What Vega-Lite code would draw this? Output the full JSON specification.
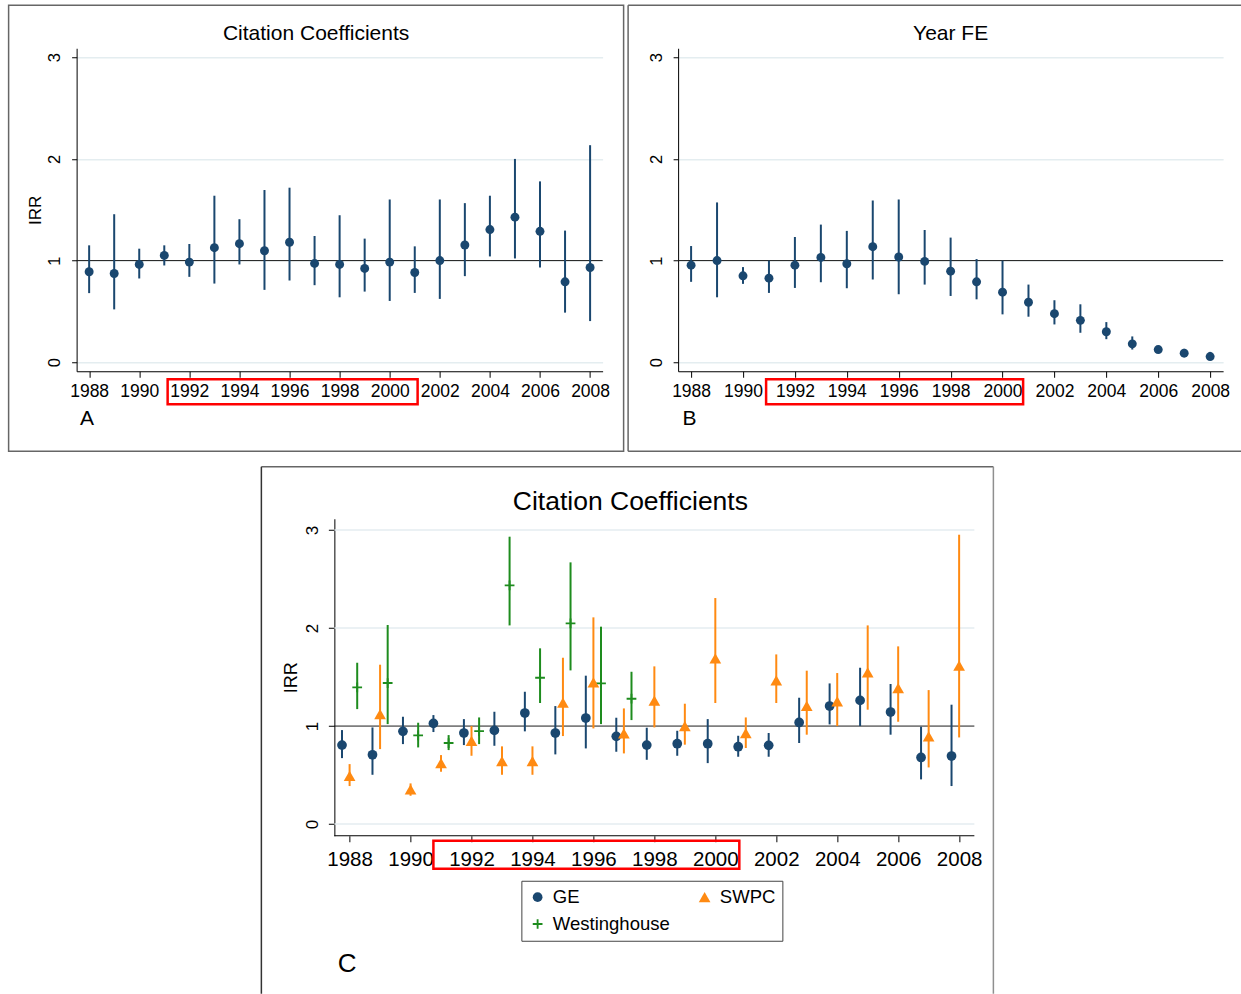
{
  "$schema": "https://vega.github.io/schema/vega-lite/v6.json",
  "background": "white",
  "padding": {"left": 7.25, "top": 4.25, "right": 0, "bottom": 0},
  "datasets": {
    "a": [
      {"year": 1988, "irr": 0.89, "lo": 0.68, "hi": 1.15},
      {"year": 1989, "irr": 0.873, "lo": 0.52, "hi": 1.456},
      {"year": 1990, "irr": 0.962, "lo": 0.824, "hi": 1.117},
      {"year": 1991, "irr": 1.051, "lo": 0.952, "hi": 1.15},
      {"year": 1992, "irr": 0.985, "lo": 0.84, "hi": 1.163},
      {"year": 1993, "irr": 1.127, "lo": 0.774, "hi": 1.638},
      {"year": 1994, "irr": 1.166, "lo": 0.962, "hi": 1.407},
      {"year": 1995, "irr": 1.097, "lo": 0.712, "hi": 1.694},
      {"year": 1996, "irr": 1.18, "lo": 0.804, "hi": 1.717},
      {"year": 1997, "irr": 0.972, "lo": 0.758, "hi": 1.242},
      {"year": 1998, "irr": 0.962, "lo": 0.639, "hi": 1.446},
      {"year": 1999, "irr": 0.923, "lo": 0.695, "hi": 1.216},
      {"year": 2000, "irr": 0.985, "lo": 0.603, "hi": 1.601},
      {"year": 2001, "irr": 0.883, "lo": 0.682, "hi": 1.14},
      {"year": 2002, "irr": 1.0, "lo": 0.623, "hi": 1.601},
      {"year": 2003, "irr": 1.153, "lo": 0.847, "hi": 1.565},
      {"year": 2004, "irr": 1.305, "lo": 1.041, "hi": 1.638},
      {"year": 2005, "irr": 1.427, "lo": 1.021, "hi": 2.0},
      {"year": 2006, "irr": 1.288, "lo": 0.932, "hi": 1.779},
      {"year": 2007, "irr": 0.791, "lo": 0.488, "hi": 1.295},
      {"year": 2008, "irr": 0.932, "lo": 0.405, "hi": 2.135}
    ],
    "b": [
      {"year": 1988, "irr": 0.955, "lo": 0.791, "hi": 1.143},
      {"year": 1989, "irr": 1.0, "lo": 0.639, "hi": 1.572},
      {"year": 1990, "irr": 0.85, "lo": 0.771, "hi": 0.936},
      {"year": 1991, "irr": 0.827, "lo": 0.682, "hi": 1.0},
      {"year": 1992, "irr": 0.955, "lo": 0.731, "hi": 1.232},
      {"year": 1993, "irr": 1.031, "lo": 0.787, "hi": 1.354},
      {"year": 1994, "irr": 0.969, "lo": 0.728, "hi": 1.292},
      {"year": 1995, "irr": 1.137, "lo": 0.814, "hi": 1.591},
      {"year": 1996, "irr": 1.035, "lo": 0.669, "hi": 1.601},
      {"year": 1997, "irr": 0.992, "lo": 0.764, "hi": 1.301},
      {"year": 1998, "irr": 0.896, "lo": 0.652, "hi": 1.226},
      {"year": 1999, "irr": 0.791, "lo": 0.619, "hi": 1.015},
      {"year": 2000, "irr": 0.689, "lo": 0.471, "hi": 1.0},
      {"year": 2001, "irr": 0.59, "lo": 0.448, "hi": 0.764},
      {"year": 2002, "irr": 0.478, "lo": 0.372, "hi": 0.61},
      {"year": 2003, "irr": 0.412, "lo": 0.29, "hi": 0.57},
      {"year": 2004, "irr": 0.3, "lo": 0.227, "hi": 0.395},
      {"year": 2005, "irr": 0.181, "lo": 0.125, "hi": 0.254},
      {"year": 2006, "irr": 0.125, "lo": 0.092, "hi": 0.155},
      {"year": 2007, "irr": 0.089, "lo": 0.056, "hi": 0.132},
      {"year": 2008, "irr": 0.056, "lo": 0.023, "hi": 0.102}
    ],
    "c": [
      {"year": 1988, "firm": "GE", "irr": 0.806, "lo": 0.673, "hi": 0.959},
      {"year": 1989, "firm": "GE", "irr": 0.707, "lo": 0.503, "hi": 0.986},
      {"year": 1990, "firm": "GE", "irr": 0.946, "lo": 0.816, "hi": 1.095},
      {"year": 1991, "firm": "GE", "irr": 1.027, "lo": 0.939, "hi": 1.112},
      {"year": 1992, "firm": "GE", "irr": 0.929, "lo": 0.806, "hi": 1.071},
      {"year": 1993, "firm": "GE", "irr": 0.956, "lo": 0.799, "hi": 1.146},
      {"year": 1994, "firm": "GE", "irr": 1.133, "lo": 0.946, "hi": 1.35},
      {"year": 1995, "firm": "GE", "irr": 0.929, "lo": 0.711, "hi": 1.204},
      {"year": 1996, "firm": "GE", "irr": 1.082, "lo": 0.772, "hi": 1.514},
      {"year": 1997, "firm": "GE", "irr": 0.895, "lo": 0.738, "hi": 1.085},
      {"year": 1998, "firm": "GE", "irr": 0.806, "lo": 0.656, "hi": 0.983},
      {"year": 1999, "firm": "GE", "irr": 0.82, "lo": 0.697, "hi": 0.952},
      {"year": 2000, "firm": "GE", "irr": 0.82, "lo": 0.622, "hi": 1.071},
      {"year": 2001, "firm": "GE", "irr": 0.789, "lo": 0.687, "hi": 0.901},
      {"year": 2002, "firm": "GE", "irr": 0.803, "lo": 0.687, "hi": 0.929},
      {"year": 2003, "firm": "GE", "irr": 1.037, "lo": 0.827, "hi": 1.289},
      {"year": 2004, "firm": "GE", "irr": 1.204, "lo": 1.017, "hi": 1.435},
      {"year": 2005, "firm": "GE", "irr": 1.262, "lo": 1.0, "hi": 1.595},
      {"year": 2006, "firm": "GE", "irr": 1.143, "lo": 0.912, "hi": 1.429},
      {"year": 2007, "firm": "GE", "irr": 0.68, "lo": 0.456, "hi": 0.993},
      {"year": 2008, "firm": "GE", "irr": 0.694, "lo": 0.388, "hi": 1.218},
      {"year": 1988, "firm": "Westinghouse", "irr": 1.395, "lo": 1.173, "hi": 1.646},
      {"year": 1989, "firm": "Westinghouse", "irr": 1.439, "lo": 1.02, "hi": 2.031},
      {"year": 1990, "firm": "Westinghouse", "irr": 0.905, "lo": 0.782, "hi": 1.034},
      {"year": 1991, "firm": "Westinghouse", "irr": 0.827, "lo": 0.755, "hi": 0.908},
      {"year": 1992, "firm": "Westinghouse", "irr": 0.949, "lo": 0.816, "hi": 1.088},
      {"year": 1993, "firm": "Westinghouse", "irr": 2.435, "lo": 2.027, "hi": 2.932},
      {"year": 1994, "firm": "Westinghouse", "irr": 1.493, "lo": 1.235, "hi": 1.793},
      {"year": 1995, "firm": "Westinghouse", "irr": 2.048, "lo": 1.568, "hi": 2.67},
      {"year": 1996, "firm": "Westinghouse", "irr": 1.435, "lo": 1.02, "hi": 2.014},
      {"year": 1997, "firm": "Westinghouse", "irr": 1.279, "lo": 1.061, "hi": 1.554},
      {"year": 1988, "firm": "SWPC", "irr": 0.493, "lo": 0.388, "hi": 0.612},
      {"year": 1989, "firm": "SWPC", "irr": 1.122, "lo": 0.765, "hi": 1.626},
      {"year": 1990, "firm": "SWPC", "irr": 0.354, "lo": 0.289, "hi": 0.415},
      {"year": 1991, "firm": "SWPC", "irr": 0.622, "lo": 0.534, "hi": 0.704},
      {"year": 1992, "firm": "SWPC", "irr": 0.85, "lo": 0.697, "hi": 1.0},
      {"year": 1993, "firm": "SWPC", "irr": 0.643, "lo": 0.503, "hi": 0.793},
      {"year": 1994, "firm": "SWPC", "irr": 0.643, "lo": 0.503, "hi": 0.793},
      {"year": 1995, "firm": "SWPC", "irr": 1.238, "lo": 0.898, "hi": 1.697},
      {"year": 1996, "firm": "SWPC", "irr": 1.446, "lo": 0.976, "hi": 2.109},
      {"year": 1997, "firm": "SWPC", "irr": 0.925, "lo": 0.721, "hi": 1.18},
      {"year": 1998, "firm": "SWPC", "irr": 1.259, "lo": 0.986, "hi": 1.609},
      {"year": 1999, "firm": "SWPC", "irr": 1.0, "lo": 0.81, "hi": 1.228},
      {"year": 2000, "firm": "SWPC", "irr": 1.69, "lo": 1.235, "hi": 2.306},
      {"year": 2001, "firm": "SWPC", "irr": 0.929, "lo": 0.776, "hi": 1.088},
      {"year": 2002, "firm": "SWPC", "irr": 1.466, "lo": 1.235, "hi": 1.731},
      {"year": 2003, "firm": "SWPC", "irr": 1.207, "lo": 0.912, "hi": 1.565},
      {"year": 2004, "firm": "SWPC", "irr": 1.252, "lo": 1.0, "hi": 1.541},
      {"year": 2005, "firm": "SWPC", "irr": 1.548, "lo": 1.167, "hi": 2.027},
      {"year": 2006, "firm": "SWPC", "irr": 1.388, "lo": 1.044, "hi": 1.813},
      {"year": 2007, "firm": "SWPC", "irr": 0.895, "lo": 0.578, "hi": 1.367},
      {"year": 2008, "firm": "SWPC", "irr": 1.616, "lo": 0.884, "hi": 2.952}
    ]
  },
  "vconcat": [
    {
      "hconcat": [
        {
          "width": 526,
          "height": 323,
          "title": {"text": "Citation Coefficients", "frame": "bounds", "anchor": "middle", "offset": -39, "fontSize": 21},
          "layer": [
            {
              "data": {"values": [{}]},
              "mark": {"type": "rect", "filled": false, "color": "#666666", "strokeWidth": 1.5},
              "encoding": {
                "x": {"datum": 1984.785}, "x2": {"datum": 2009.338},
                "y": {"datum": 3.5114}, "y2": {"datum": -0.8754}
              }
            },
            {
              "data": {"values": [{}]},
              "mark": {"type": "rule", "color": "#1C1C1C", "strokeWidth": 1},
              "encoding": {"y": {"datum": 1}}
            },
            {
              "data": {"name": "a"},
              "mark": {"type": "rule", "color": "#1A476F", "strokeWidth": 2},
              "encoding": {
                "x": {
                  "field": "year", "type": "quantitative",
                  "scale": {"domain": [1987.5, 2008.5], "nice": false, "zero": false},
                  "axis": {
                    "values": [1988, 1989, 1990, 1991, 1992, 1993, 1994, 1995, 1996, 1997, 1998, 1999, 2000, 2001, 2002, 2003, 2004, 2005, 2006, 2007, 2008],
                    "labelExpr": "datum.value % 2 == 0 ? format(datum.value, 'd') : ''",
                    "labelFontSize": 17.5, "labelPadding": 5, "tickSize": 6,
                    "labelFlush": false, "labelOverlap": false, "grid": false,
                    "title": "A", "titleFontSize": 21, "titleX": 3, "titleY": 53,
                    "titleAlign": "left", "titleBaseline": "alphabetic"
                  }
                },
                "y": {
                  "field": "lo", "type": "quantitative",
                  "scale": {"domain": [-0.0885, 3.0885], "nice": false, "zero": false},
                  "axis": {
                    "values": [0, 1, 2, 3], "format": "d", "grid": true,
                    "labelAngle": 270, "labelAlign": "center", "labelBaseline": "alphabetic",
                    "labelPadding": 12, "labelFontSize": 16.5, "tickSize": 5,
                    "title": "IRR", "titleFontSize": 17, "titleAngle": 270,
                    "titleAlign": "center", "titleBaseline": "alphabetic",
                    "titleX": -36.5, "titleY": 161.5
                  }
                },
                "y2": {"field": "hi"}
              }
            },
            {
              "data": {"name": "a"},
              "mark": {"type": "circle", "color": "#1A476F", "size": 80, "opacity": 1},
              "encoding": {
                "x": {"field": "year", "type": "quantitative", "scale": {"domain": [1987.5, 2008.5], "nice": false, "zero": false}},
                "y": {"field": "irr", "type": "quantitative", "scale": {"domain": [-0.0885, 3.0885], "nice": false, "zero": false}}
              }
            },
            {
              "data": {"values": [{}]},
              "mark": {"type": "rect", "filled": false, "color": "#FF0000", "strokeWidth": 2.5, "xOffset": -21.7, "x2Offset": 27.9},
              "encoding": {
                "x": {"datum": 1992}, "x2": {"datum": 2000},
                "y": {"datum": -0.167}, "y2": {"datum": -0.413}
              }
            }
          ]
        },
        {
          "width": 545,
          "height": 323,
          "title": {"text": "Year FE", "frame": "group", "anchor": "middle", "offset": -39, "fontSize": 21},
          "layer": [
            {
              "data": {"values": [{}]},
              "mark": {"type": "rule", "color": "#666666", "strokeWidth": 1.5},
              "encoding": {"x": {"datum": 1985.573}, "x2": {"datum": 2009.194}, "y": {"datum": 3.5114}}
            },
            {
              "data": {"values": [{}]},
              "mark": {"type": "rule", "color": "#666666", "strokeWidth": 1.5},
              "encoding": {"x": {"datum": 1985.573}, "x2": {"datum": 2009.194}, "y": {"datum": -0.8754}}
            },
            {
              "data": {"values": [{}]},
              "mark": {"type": "rule", "color": "#666666", "strokeWidth": 1.5},
              "encoding": {"x": {"datum": 1985.573}, "y": {"datum": 3.5114}, "y2": {"datum": -0.8754}}
            },
            {
              "data": {"values": [{}]},
              "mark": {"type": "rule", "color": "#1C1C1C", "strokeWidth": 1},
              "encoding": {"y": {"datum": 1}}
            },
            {
              "data": {"name": "b"},
              "mark": {"type": "rule", "color": "#1A476F", "strokeWidth": 2},
              "encoding": {
                "x": {
                  "field": "year", "type": "quantitative",
                  "scale": {"domain": [1987.5, 2008.5], "nice": false, "zero": false},
                  "axis": {
                    "values": [1988, 1989, 1990, 1991, 1992, 1993, 1994, 1995, 1996, 1997, 1998, 1999, 2000, 2001, 2002, 2003, 2004, 2005, 2006, 2007, 2008],
                    "labelExpr": "datum.value % 2 == 0 ? format(datum.value, 'd') : ''",
                    "labelFontSize": 17.5, "labelPadding": 5, "tickSize": 6,
                    "labelFlush": false, "labelOverlap": false, "grid": false,
                    "title": "B", "titleFontSize": 21, "titleX": 4, "titleY": 53,
                    "titleAlign": "left", "titleBaseline": "alphabetic"
                  }
                },
                "y": {
                  "field": "lo", "type": "quantitative",
                  "scale": {"domain": [-0.0885, 3.0885], "nice": false, "zero": false},
                  "axis": {
                    "values": [0, 1, 2, 3], "format": "d", "grid": true,
                    "labelAngle": 270, "labelAlign": "center", "labelBaseline": "alphabetic",
                    "labelPadding": 12, "labelFontSize": 16.5, "tickSize": 5,
                    "title": null
                  }
                },
                "y2": {"field": "hi"}
              }
            },
            {
              "data": {"name": "b"},
              "mark": {"type": "circle", "color": "#1A476F", "size": 80, "opacity": 1},
              "encoding": {
                "x": {"field": "year", "type": "quantitative", "scale": {"domain": [1987.5, 2008.5], "nice": false, "zero": false}},
                "y": {"field": "irr", "type": "quantitative", "scale": {"domain": [-0.0885, 3.0885], "nice": false, "zero": false}}
              }
            },
            {
              "data": {"values": [{}]},
              "mark": {"type": "rect", "filled": false, "color": "#FF0000", "strokeWidth": 2.5, "xOffset": -28.8, "x2Offset": 20.6},
              "encoding": {
                "x": {"datum": 1992}, "x2": {"datum": 2000},
                "y": {"datum": -0.167}, "y2": {"datum": -0.413}
              }
            }
          ]
        }
      ],
      "spacing": 2.5
    },
    {
      "width": 650,
      "height": 317,
      "title": {"text": "Citation Coefficients", "frame": "bounds", "anchor": "middle", "offset": -50, "fontSize": 26.5, "dx": 3},
      "layer": [
        {
          "data": {"values": [{}]},
          "mark": {"type": "rule", "color": "#666666", "strokeWidth": 1.5},
          "encoding": {"x": {"datum": 1985.105}, "x2": {"datum": 2009.124}, "y": {"datum": 3.6456}}
        },
        {
          "data": {"values": [{}]},
          "mark": {"type": "rule", "color": "#333333", "strokeWidth": 1.5},
          "encoding": {"x": {"datum": 1985.105}, "y": {"datum": 3.6456}, "y2": {"datum": -1.731}}
        },
        {
          "data": {"values": [{}]},
          "mark": {"type": "rule", "color": "#8F8F8F", "strokeWidth": 1.5},
          "encoding": {"x": {"datum": 2009.124}, "y": {"datum": 3.6456}, "y2": {"datum": -1.731}}
        },
        {
          "data": {"values": [{}]},
          "mark": {"type": "rule", "color": "#E4EDF0", "strokeWidth": 1.5},
          "encoding": {"x": {"datum": 1987.5}, "x2": {"datum": 2008.5}, "y": {"datum": 0}}
        },
        {
          "data": {"values": [{}]},
          "mark": {"type": "rule", "color": "#E4EDF0", "strokeWidth": 1.5},
          "encoding": {"x": {"datum": 1987.5}, "x2": {"datum": 2008.5}, "y": {"datum": 2}}
        },
        {
          "data": {"values": [{}]},
          "mark": {"type": "rule", "color": "#E4EDF0", "strokeWidth": 1.5},
          "encoding": {"x": {"datum": 1987.5}, "x2": {"datum": 2008.5}, "y": {"datum": 3}}
        },
        {
          "data": {"values": [{}]},
          "mark": {"type": "rule", "color": "#1C1C1C", "strokeWidth": 1},
          "encoding": {"x": {"datum": 1987.5}, "x2": {"datum": 2008.5}, "y": {"datum": 1}}
        },
        {
          "data": {"values": [{}]},
          "mark": {"type": "rule", "color": "#000000", "strokeWidth": 1},
          "encoding": {"x": {"datum": 1987.5}, "x2": {"datum": 2008.5}, "y": {"datum": -0.119}}
        },
        {
          "data": {"name": "c"},
          "transform": [{"filter": "datum.firm == 'GE'"}],
          "mark": {"type": "rule", "color": "#1A476F", "strokeWidth": 2, "xOffset": -7.6},
          "encoding": {
            "x": {
              "field": "year", "type": "quantitative",
              "scale": {"domain": [1987.172, 2008.5], "nice": false, "zero": false},
              "axis": {
                "values": [1988, 1989, 1990, 1991, 1992, 1993, 1994, 1995, 1996, 1997, 1998, 1999, 2000, 2001, 2002, 2003, 2004, 2005, 2006, 2007, 2008],
                "labelExpr": "datum.value % 2 == 0 ? format(datum.value, 'd') : ''",
                "labelFontSize": 20.5, "labelPadding": 8, "tickSize": 6,
                "labelFlush": false, "labelOverlap": false, "grid": false, "domain": false,
                "title": "C", "titleFontSize": 26, "titleX": 13, "titleY": 136,
                "titleAlign": "left", "titleBaseline": "alphabetic"
              }
            },
            "y": {
              "field": "lo", "type": "quantitative",
              "scale": {"domain": [-0.119, 3.115], "nice": false, "zero": false},
              "axis": {
                "values": [0, 1, 2, 3], "format": "d", "grid": false, "offset": -10,
                "labelAngle": 270, "labelAlign": "center", "labelBaseline": "alphabetic",
                "labelPadding": 11, "labelFontSize": 17, "tickSize": 6,
                "title": "IRR", "titleFontSize": 18, "titleAngle": 270,
                "titleAlign": "center", "titleBaseline": "alphabetic",
                "titleX": -37.7, "titleY": 158.5
              }
            },
            "y2": {"field": "hi"}
          }
        },
        {
          "data": {"name": "c"},
          "transform": [{"filter": "datum.firm == 'Westinghouse'"}],
          "mark": {"type": "rule", "color": "#1E8C1E", "strokeWidth": 2, "xOffset": 7.6},
          "encoding": {
            "x": {"field": "year", "type": "quantitative", "scale": {"domain": [1987.172, 2008.5], "nice": false, "zero": false}},
            "y": {"field": "lo", "type": "quantitative", "scale": {"domain": [-0.119, 3.115], "nice": false, "zero": false}},
            "y2": {"field": "hi"}
          }
        },
        {
          "data": {"name": "c"},
          "transform": [{"filter": "datum.firm == 'SWPC'"}],
          "mark": {"type": "rule", "color": "#FF8A12", "strokeWidth": 2},
          "encoding": {
            "x": {"field": "year", "type": "quantitative", "scale": {"domain": [1987.172, 2008.5], "nice": false, "zero": false}},
            "y": {"field": "lo", "type": "quantitative", "scale": {"domain": [-0.119, 3.115], "nice": false, "zero": false}},
            "y2": {"field": "hi"}
          }
        },
        {
          "data": {"name": "c"},
          "transform": [{"filter": "datum.firm == 'GE'"}],
          "mark": {"type": "point", "filled": true, "size": 95, "opacity": 1, "strokeWidth": 0, "xOffset": -7.6},
          "encoding": {
            "x": {"field": "year", "type": "quantitative", "scale": {"domain": [1987.172, 2008.5], "nice": false, "zero": false}},
            "y": {"field": "irr", "type": "quantitative", "scale": {"domain": [-0.119, 3.115], "nice": false, "zero": false}},
            "color": {
              "field": "firm", "type": "nominal",
              "scale": {"domain": ["GE", "Westinghouse", "SWPC"], "range": ["#1A476F", "#1E8C1E", "#FF8A12"]},
              "legend": {
                "orient": "none", "legendX": 197, "legendY": 362, "columns": 2, "title": null,
                "labelFontSize": 18.5, "labelColor": "#000", "symbolSize": 95, "labelOffset": 6,
                "columnPadding": 25, "rowPadding": 8, "padding": 7,
                "strokeColor": "#444444", "fillColor": "#FFFFFF",
                "symbolStrokeWidth": 0, "symbolOpacity": 1
              }
            },
            "shape": {
              "field": "firm", "type": "nominal",
              "scale": {
                "domain": ["GE", "Westinghouse", "SWPC"],
                "range": [
                  "circle",
                  "M-1,-0.19H-0.19V-1H0.19V-0.19H1V0.19H0.19V1H-0.19V0.19H-1Z",
                  "M0,-1.05L1.2,1.05L-1.2,1.05Z"
                ]
              },
              "legend": {
                "orient": "none", "legendX": 197, "legendY": 362, "columns": 2, "title": null,
                "labelFontSize": 18.5, "labelColor": "#000", "symbolSize": 95, "labelOffset": 6,
                "columnPadding": 25, "rowPadding": 8, "padding": 7,
                "strokeColor": "#444444", "fillColor": "#FFFFFF",
                "symbolStrokeWidth": 0, "symbolOpacity": 1
              }
            }
          }
        },
        {
          "data": {"name": "c"},
          "transform": [{"filter": "datum.firm == 'Westinghouse'"}],
          "mark": {"type": "point", "filled": true, "size": 95, "opacity": 1, "strokeWidth": 0, "xOffset": 7.6},
          "encoding": {
            "x": {"field": "year", "type": "quantitative", "scale": {"domain": [1987.172, 2008.5], "nice": false, "zero": false}},
            "y": {"field": "irr", "type": "quantitative", "scale": {"domain": [-0.119, 3.115], "nice": false, "zero": false}},
            "color": {"field": "firm", "type": "nominal", "scale": {"domain": ["GE", "Westinghouse", "SWPC"], "range": ["#1A476F", "#1E8C1E", "#FF8A12"]}},
            "shape": {"field": "firm", "type": "nominal", "scale": {"domain": ["GE", "Westinghouse", "SWPC"], "range": ["circle", "M-1,-0.19H-0.19V-1H0.19V-0.19H1V0.19H0.19V1H-0.19V0.19H-1Z", "M0,-1.05L1.2,1.05L-1.2,1.05Z"]}}
          }
        },
        {
          "data": {"name": "c"},
          "transform": [{"filter": "datum.firm == 'SWPC'"}],
          "mark": {"type": "point", "filled": true, "size": 95, "opacity": 1, "strokeWidth": 0},
          "encoding": {
            "x": {"field": "year", "type": "quantitative", "scale": {"domain": [1987.172, 2008.5], "nice": false, "zero": false}},
            "y": {"field": "irr", "type": "quantitative", "scale": {"domain": [-0.119, 3.115], "nice": false, "zero": false}},
            "color": {"field": "firm", "type": "nominal", "scale": {"domain": ["GE", "Westinghouse", "SWPC"], "range": ["#1A476F", "#1E8C1E", "#FF8A12"]}},
            "shape": {"field": "firm", "type": "nominal", "scale": {"domain": ["GE", "Westinghouse", "SWPC"], "range": ["circle", "M-1,-0.19H-0.19V-1H0.19V-0.19H1V0.19H0.19V1H-0.19V0.19H-1Z", "M0,-1.05L1.2,1.05L-1.2,1.05Z"]}}
          }
        },
        {
          "data": {"values": [{}]},
          "mark": {"type": "rect", "filled": false, "color": "#FF0000", "strokeWidth": 2.5, "xOffset": -38.1, "x2Offset": 24},
          "encoding": {
            "x": {"datum": 1992}, "x2": {"datum": 2000},
            "y": {"datum": -0.17}, "y2": {"datum": -0.456}
          }
        }
      ]
    }
  ],
  "spacing": 13.5,
  "center": true,
  "resolve": {"legend": {"color": "independent", "shape": "independent"}},
  "config": {
    "font": "Liberation Sans",
    "view": {"stroke": null},
    "axis": {
      "labelColor": "#000000", "titleColor": "#000000", "domainColor": "#000000", "tickColor": "#000000",
      "titleFontWeight": "normal", "gridColor": "#E4EDF0", "gridWidth": 1.5,
      "domainWidth": 1, "tickWidth": 1
    },
    "title": {"color": "#000000", "fontWeight": "normal"},
    "legend": {"labelLimit": 0}
  }
}
